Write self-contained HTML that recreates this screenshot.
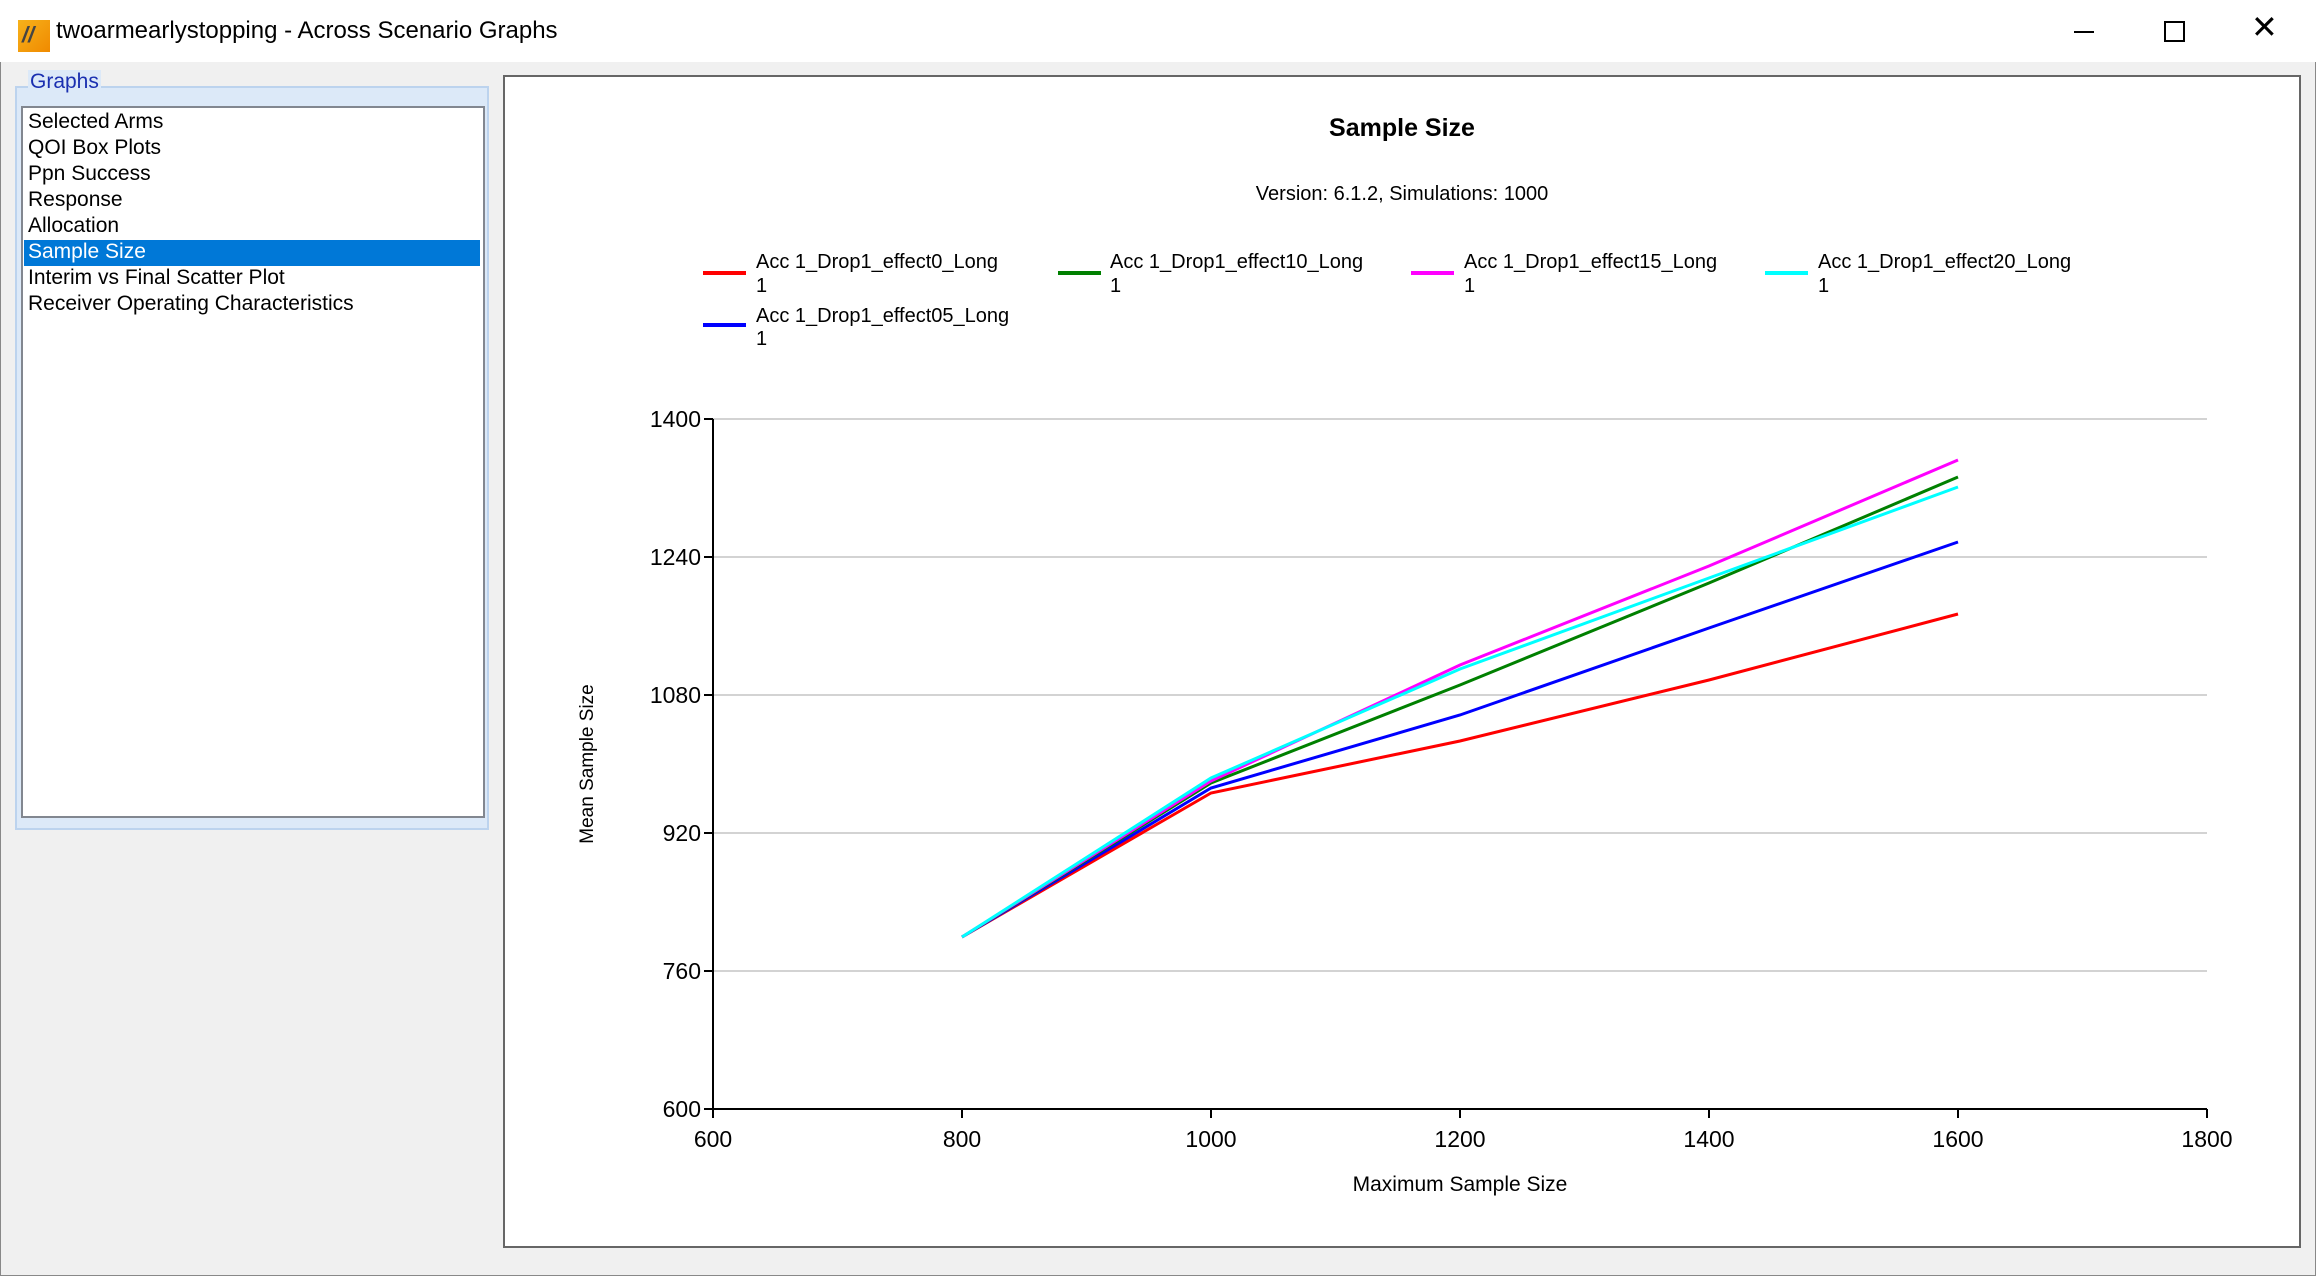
<!DOCTYPE html>
<html><head><meta charset="utf-8"><style>
body{margin:0;width:2316px;height:1276px;overflow:hidden;background:#f0f0f0;font-family:"Liberation Sans",sans-serif;position:relative}
.win{position:absolute;left:0;top:0;width:2314px;height:1274px;border:1px solid #888;background:#f0f0f0}
.tb{position:absolute;left:0;top:0;width:2316px;height:62px;background:#fff}
.abs{position:absolute}
.li{position:absolute;left:28px;font-size:21px;color:#000;white-space:nowrap}
</style></head><body>
<div class="win"></div>
<div class="tb"></div>
<div class="abs" style="left:18px;top:20px;width:32px;height:32px;background:linear-gradient(135deg,#f7b21b,#f08a00)"></div>
<div class="abs" style="left:22px;top:22px;font-size:22px;color:#444;font-weight:bold;font-style:italic">//</div>
<div class="abs" style="left:56px;top:17px;font-size:24px;color:#000">twoarmearlystopping - Across Scenario Graphs</div>
<div class="abs" style="left:2074px;top:31px;width:20px;height:2px;background:#000"></div>
<div class="abs" style="left:2164px;top:21px;width:17px;height:17px;border:2px solid #000"></div>
<div class="abs" style="left:2251px;top:8px;font-size:32px;color:#000">✕</div>

<div class="abs" style="left:15px;top:86px;width:470px;height:740px;border:2px solid #bcd3ee;background:#dce9f8"></div>
<div class="abs" style="left:28px;top:70px;font-size:21px;color:#1a2fb0;background:#dce9f8;padding:0 2px">Graphs</div>
<div class="abs" style="left:21px;top:106px;width:460px;height:708px;border:2px solid #828790;background:#fff"></div>
<div class="li" style="top:110px">Selected Arms</div>
<div class="li" style="top:136px">QOI Box Plots</div>
<div class="li" style="top:162px">Ppn Success</div>
<div class="li" style="top:188px">Response</div>
<div class="li" style="top:214px">Allocation</div>
<div class="abs" style="left:24px;top:240px;width:456px;height:26px;background:#0078d7"></div>
<div class="li" style="top:240px;color:#fff">Sample Size</div>
<div class="li" style="top:266px">Interim vs Final Scatter Plot</div>
<div class="li" style="top:292px">Receiver Operating Characteristics</div>

<div class="abs" style="left:503px;top:75px;width:1794px;height:1169px;border:2px solid #666;background:#fff"></div>

<svg class="abs" style="left:0;top:0" width="2316" height="1276" font-family="Liberation Sans, sans-serif">
<text x="1402" y="136" font-size="25" font-weight="bold" text-anchor="middle">Sample Size</text>
<text x="1402" y="200" font-size="20" text-anchor="middle">Version: 6.1.2, Simulations: 1000</text>
<g font-size="20">
<line x1="703" y1="273" x2="746" y2="273" stroke="#f00" stroke-width="4"/><text x="756" y="268">Acc 1_Drop1_effect0_Long</text><text x="756" y="292">1</text>
<line x1="1058" y1="273" x2="1101" y2="273" stroke="#008000" stroke-width="4"/><text x="1110" y="268">Acc 1_Drop1_effect10_Long</text><text x="1110" y="292">1</text>
<line x1="1411" y1="273" x2="1454" y2="273" stroke="#f0f" stroke-width="4"/><text x="1464" y="268">Acc 1_Drop1_effect15_Long</text><text x="1464" y="292">1</text>
<line x1="1765" y1="273" x2="1808" y2="273" stroke="#0ff" stroke-width="4"/><text x="1818" y="268">Acc 1_Drop1_effect20_Long</text><text x="1818" y="292">1</text>
<line x1="703" y1="325" x2="746" y2="325" stroke="#00f" stroke-width="4"/><text x="756" y="322">Acc 1_Drop1_effect05_Long</text><text x="756" y="345">1</text>
</g>
<g stroke="#d3d3d3" stroke-width="2">
<line x1="713" y1="419" x2="2207" y2="419"/><line x1="713" y1="557" x2="2207" y2="557"/><line x1="713" y1="695" x2="2207" y2="695"/><line x1="713" y1="833" x2="2207" y2="833"/><line x1="713" y1="971" x2="2207" y2="971"/>
</g>
<g stroke="#000" stroke-width="2">
<line x1="713" y1="419" x2="713" y2="1110"/><line x1="712" y1="1109" x2="2207" y2="1109"/>
<line x1="704" y1="419" x2="713" y2="419"/><line x1="704" y1="557" x2="713" y2="557"/><line x1="704" y1="695" x2="713" y2="695"/><line x1="704" y1="833" x2="713" y2="833"/><line x1="704" y1="971" x2="713" y2="971"/><line x1="704" y1="1109" x2="713" y2="1109"/>
<line x1="713" y1="1109" x2="713" y2="1118"/><line x1="962" y1="1109" x2="962" y2="1118"/><line x1="1211" y1="1109" x2="1211" y2="1118"/><line x1="1460" y1="1109" x2="1460" y2="1118"/><line x1="1709" y1="1109" x2="1709" y2="1118"/><line x1="1958" y1="1109" x2="1958" y2="1118"/><line x1="2207" y1="1109" x2="2207" y2="1118"/>
</g>
<g font-size="23" text-anchor="end">
<text x="701" y="427">1400</text><text x="701" y="565">1240</text><text x="701" y="703">1080</text><text x="701" y="841">920</text><text x="701" y="979">760</text><text x="701" y="1117">600</text>
</g>
<g font-size="23" text-anchor="middle">
<text x="713" y="1147">600</text><text x="962" y="1147">800</text><text x="1211" y="1147">1000</text><text x="1460" y="1147">1200</text><text x="1709" y="1147">1400</text><text x="1958" y="1147">1600</text><text x="2207" y="1147">1800</text>
<text x="1460" y="1191" font-size="21">Maximum Sample Size</text>
<text transform="translate(593,764) rotate(-90)" font-size="19">Mean Sample Size</text>
</g>
<g fill="none" stroke-width="3">
<polyline stroke="#f00" points="962,937 1211,793 1460,741 1709,680 1958,614"/>
<polyline stroke="#00f" points="962,937 1211,788 1460,715 1709,628 1958,542"/>
<polyline stroke="#008000" points="962,937 1211,783 1460,685 1709,583 1958,477"/>
<polyline stroke="#f0f" points="962,937 1211,781 1460,665 1709,566 1958,460"/>
<polyline stroke="#0ff" points="962,937 1211,778 1460,669 1709,578 1958,487"/>
</g>
</svg>
</body></html>
